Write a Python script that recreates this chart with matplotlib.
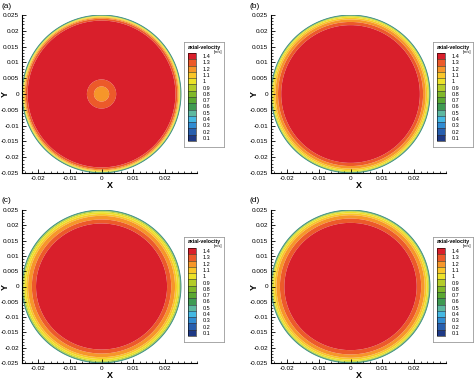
import numpy as np
import matplotlib
matplotlib.use("Agg")
import matplotlib.pyplot as plt
from matplotlib.colors import ListedColormap
from matplotlib.ticker import MultipleLocator, FuncFormatter, FixedLocator

plt.rcParams['font.family'] = ['Liberation Sans', 'DejaVu Sans']

# ---------------- data ----------------
panel_labels = ["(a)", "(b)", "(c)", "(d)"]
pipe_radius = 0.025

# radial axial-velocity profiles (r [m], v [m/s])
r_a = [0, 0.0020, 0.0028, 0.0042, 0.0050, 0.0230, 0.0236, 0.0240, 0.0243, 0.0245, 0.0247, 0.0250]
v_a = [1.20, 1.22, 1.28, 1.32, 1.38, 1.38, 1.30, 1.20, 1.10, 1.00, 0.90, 0.50]
r_b = [0, 0.0210, 0.0218, 0.0228, 0.0236, 0.0241, 0.0245, 0.0247, 0.0250]
v_b = [1.40, 1.39, 1.35, 1.25, 1.15, 1.05, 0.95, 0.85, 0.50]
r_c = [0, 0.0196, 0.0206, 0.0219, 0.0231, 0.0237, 0.0243, 0.0246, 0.0250]
v_c = [1.40, 1.39, 1.35, 1.25, 1.15, 1.05, 0.95, 0.85, 0.50]
r_d = [0, 0.0200, 0.0208, 0.0222, 0.0233, 0.0239, 0.0244, 0.0246, 0.0250]
v_d = [1.40, 1.39, 1.35, 1.25, 1.15, 1.05, 0.95, 0.85, 0.50]
profiles = [(r_a, v_a), (r_b, v_b), (r_c, v_c), (r_d, v_d)]

legend_levels = [0.1, 0.2, 0.3, 0.4, 0.5, 0.6, 0.7, 0.8, 0.9, 1.0, 1.1, 1.2, 1.3, 1.4]
level_colors = ['#1f3a86', '#285fae', '#318cd2', '#45b8e2', '#5db8a0', '#3f9a52',
                '#5aa832', '#80b82a', '#b4cc2a', '#ece22a', '#f9c62a', '#f6962a',
                '#ec5a2a', '#d91f2b']
x_ticks = [-0.02, -0.01, 0, 0.01, 0.02]
y_ticks = [-0.025, -0.02, -0.015, -0.01, -0.005, 0, 0.005, 0.01, 0.015, 0.02, 0.025]

# ---------------- layout (pixels) ----------------
W, H = 474, 385
fig = plt.figure(figsize=(W / 100, H / 100), dpi=100)

axes_px = [(22, 15, 175, 158), (271, 15, 175, 158), (22, 210, 175, 153), (271, 210, 175, 153)]
legend_px = [(184, 42, 40, 105), (433, 42, 40, 105), (184, 237, 40, 105), (433, 237, 40, 105)]

def fbox(x, y, w, h):
    return [x / W, 1 - (y + h) / H, w / W, h / H]

bounds = [l - 0.05 for l in legend_levels] + [legend_levels[-1] + 0.05]
cmap = ListedColormap(level_colors)

n = 900
g = np.linspace(-0.0252, 0.0252, n)
X, Y = np.meshgrid(g, g)
Rg = np.hypot(X, Y)

fmt = FuncFormatter(lambda v, p: "%g" % round(v, 4))

for i in range(4):
    ax = fig.add_axes(fbox(*axes_px[i]))
    rr, vv = profiles[i]
    field = np.interp(Rg, rr, vv)
    field = np.where(Rg <= pipe_radius, field, np.nan)
    cs = ax.contourf(X, Y, field, levels=bounds, cmap=cmap, antialiased=True)
    ax.contour(X, Y, Rg, levels=[pipe_radius * 0.999], colors='#3d8c84', linewidths=0.6)
    ax.set_xlim(-0.025, 0.03)
    ax.set_ylim(-0.025, 0.025)
    for s in ['top', 'right']:
        ax.spines[s].set_visible(False)
    for s in ['left', 'bottom']:
        ax.spines[s].set_linewidth(0.8)
    ax.xaxis.set_major_locator(FixedLocator(x_ticks))
    ax.yaxis.set_major_locator(FixedLocator(y_ticks))
    ax.xaxis.set_minor_locator(MultipleLocator(0.002))
    ax.yaxis.set_minor_locator(MultipleLocator(0.001))
    ax.xaxis.set_major_formatter(fmt)
    ax.yaxis.set_major_formatter(fmt)
    ax.tick_params(which='major', direction='in', length=3, width=0.6, labelsize=4.6, pad=2)
    ax.tick_params(which='minor', direction='in', length=1.5, width=0.5)
    ax.set_xlabel("X", fontsize=6.5, fontweight='bold', labelpad=0.5)
    ax.set_ylabel("Y", fontsize=6.5, fontweight='bold', va='center')
    ax.yaxis.set_label_coords(-17.0 / axes_px[i][2], 0.5)
    ax.set_facecolor('white')
    # panel label
    x0, y0 = axes_px[i][0], axes_px[i][1]
    fig.text((x0 - 21) / W, 1 - (y0 - 9) / H, panel_labels[i], fontsize=6, va='center', ha='left')

    # legend box
    bx, by, bw, bh = legend_px[i]
    lax = fig.add_axes(fbox(bx, by, bw, bh))
    lax.set_xticks([]); lax.set_yticks([])
    lax.set_facecolor('white')
    for s in lax.spines.values():
        s.set_edgecolor('#9a9a9a'); s.set_linewidth(0.6)
    lax.text(0.5, 1 - 5 / bh, "axial-velocity", transform=lax.transAxes,
             fontsize=3.8, fontweight='bold', ha='center', va='center')
    lax.text(1 - 2 / bw, 1 - 9.5 / bh, "[m/s]", transform=lax.transAxes,
             fontsize=2.8, ha='right', va='center')
    cax = fig.add_axes(fbox(bx + 3.5, by + 11, 8, 88))
    cb = fig.colorbar(cs, cax=cax, ticks=legend_levels, drawedges=True)
    cb.outline.set_linewidth(0.4)
    cb.dividers.set_linewidth(0.4)
    cb.dividers.set_color('#333333')
    cax.set_yticklabels(["%g" % l for l in legend_levels])
    cax.tick_params(length=0, labelsize=4.0, pad=5)

fig.savefig("out.png", dpi=100)
